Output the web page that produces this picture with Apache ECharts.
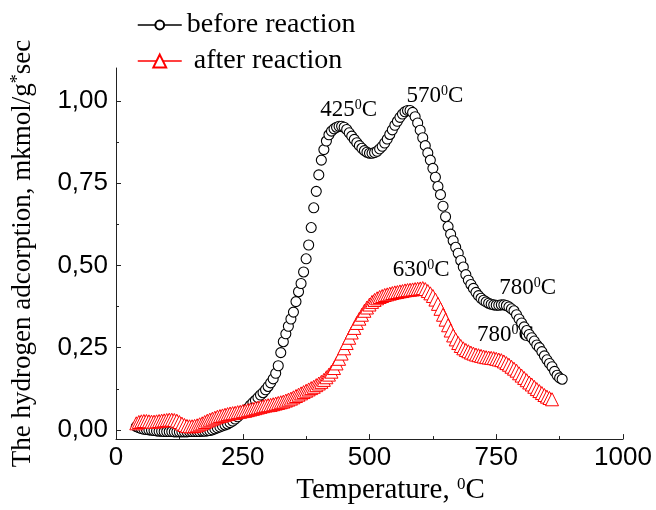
<!DOCTYPE html>
<html><head><meta charset="utf-8">
<script src="https://cdn.jsdelivr.net/npm/echarts@6/dist/echarts.min.js"></script>
<style>html,body{margin:0;padding:0;background:#fff}#c{width:656px;height:510px}</style>
</head><body><div id="c"></div><script>
// Temperatures (°C) for "before reaction"
const beforeT = [
 40,45,50,55,60,65,70,75,80,85,
 90,95,100,105,110,115,120,125,130,135,
 140,145,150,155,160,165,170,175,180,185,
 190,195,200,205,210,215,220,225,230,235,
 240,245,250,255,260,265,270,275,280,285,
 290,295,300,305,310,315,320,325,330,335,
 340,345,350,355,360,365,370,375,380,385,
 390,395,400,405,410,415,420,425,430,435,
 440,445,450,455,460,465,470,475,480,485,
 490,495,500,505,510,515,520,525,530,535,
 540,545,550,555,560,565,570,575,580,585,
 590,595,600,605,610,615,620,625,630,635,
 640,645,650,655,660,665,670,675,680,685,
 690,695,700,705,710,715,720,725,730,735,
 740,745,750,755,760,765,770,775,780,785,
 790,795,800,805,810,815,820,825,830,835,
 840,845,850,855,860,865,870,875,880
];
const beforeY = [
 0.010,0.007,0.004,0.002,0.001,0.000,-0.001,-0.002,-0.003,-0.004,
 -0.004,-0.005,-0.005,-0.005,-0.005,-0.006,-0.006,-0.006,-0.006,-0.006,
 -0.006,-0.005,-0.005,-0.005,-0.005,-0.005,-0.004,-0.004,-0.003,-0.002,
 0.000,0.003,0.006,0.009,0.012,0.015,0.018,0.022,0.027,0.033,
 0.040,0.047,0.054,0.060,0.066,0.075,0.083,0.090,0.098,0.106,
 0.113,0.122,0.132,0.143,0.155,0.172,0.195,0.235,0.268,0.292,
 0.315,0.337,0.358,0.390,0.420,0.445,0.480,0.520,0.562,0.615,
 0.675,0.725,0.775,0.820,0.852,0.878,0.897,0.908,0.915,0.920,
 0.923,0.923,0.920,0.913,0.903,0.893,0.883,0.873,0.864,0.856,
 0.849,0.844,0.841,0.841,0.843,0.847,0.854,0.862,0.872,0.884,
 0.898,0.912,0.926,0.938,0.950,0.960,0.967,0.971,0.971,0.965,
 0.952,0.933,0.911,0.888,0.864,0.842,0.820,0.795,0.768,0.740,
 0.715,0.680,0.648,0.618,0.595,0.575,0.555,0.537,0.515,0.495,
 0.472,0.455,0.442,0.430,0.418,0.408,0.400,0.394,0.389,0.385,
 0.382,0.380,0.379,0.379,0.380,0.380,0.378,0.374,0.368,0.362,
 0.350,0.337,0.325,0.313,0.302,0.290,0.280,0.270,0.258,0.250,
 0.238,0.225,0.213,0.202,0.192,0.178,0.166,0.158,0.154
];
// Temperatures (°C) for "after reaction"
const afterT = [
 40,45,50,55,60,65,70,75,80,85,
 90,95,100,105,110,115,120,125,130,135,
 140,145,150,155,160,165,170,175,180,185,
 190,195,200,205,210,215,220,225,230,235,
 240,245,250,255,260,265,270,275,280,285,
 290,295,300,305,310,315,320,325,330,335,
 340,345,350,355,360,365,370,375,380,385,
 390,395,400,405,410,415,420,425,430,435,
 440,445,450,455,460,465,470,475,480,485,
 490,495,500,505,510,515,520,525,530,535,
 540,545,550,555,560,565,570,575,580,585,
 590,595,600,605,610,615,620,625,630,635,
 640,645,650,655,660,665,670,675,680,685,
 690,695,700,705,710,715,720,725,730,735,
 740,745,750,755,760,765,770,775,780,785,
 790,795,800,805,810,815,820,825,830,835,
 840,845,850,855,860
];
const afterY = [
 0.020,0.024,0.026,0.027,0.027,0.026,0.025,0.025,0.026,0.027,
 0.028,0.029,0.030,0.031,0.031,0.030,0.028,0.024,0.019,0.015,
 0.012,0.011,0.011,0.012,0.014,0.017,0.020,0.024,0.028,0.031,
 0.034,0.037,0.040,0.042,0.044,0.046,0.048,0.050,0.051,0.052,
 0.054,0.055,0.057,0.058,0.060,0.062,0.064,0.066,0.068,0.070,
 0.072,0.074,0.075,0.076,0.078,0.080,0.082,0.084,0.086,0.089,
 0.092,0.095,0.099,0.103,0.107,0.111,0.115,0.119,0.123,0.127,
 0.131,0.136,0.141,0.146,0.152,0.160,0.168,0.177,0.188,0.202,
 0.216,0.232,0.248,0.264,0.280,0.296,0.310,0.325,0.338,0.350,
 0.362,0.372,0.381,0.389,0.395,0.400,0.404,0.407,0.410,0.412,
 0.414,0.416,0.418,0.419,0.421,0.422,0.424,0.425,0.426,0.427,
 0.428,0.429,0.430,0.431,0.428,0.422,0.415,0.407,0.396,0.383,
 0.368,0.350,0.335,0.318,0.302,0.287,0.275,0.264,0.255,0.248,
 0.243,0.239,0.235,0.232,0.229,0.227,0.225,0.223,0.221,0.220,
 0.219,0.218,0.216,0.214,0.212,0.208,0.203,0.198,0.192,0.186,
 0.180,0.172,0.165,0.158,0.151,0.144,0.138,0.131,0.124,0.118,
 0.112,0.106,0.101,0.097,0.093
];
const xTickValues = [0, 250, 500, 750, 1000];
const yLabelValues = [0, 0.25, 0.5, 0.75, 1.0];
const yMinorValues = [0.125, 0.375, 0.625, 0.875];
const peakNames = ['425', '570', '630', '780', '780'];
const peakAnchors = [[459, 0.972], [629, 1.014], [602, 0.487], [812, 0.432], [768, 0.290]];

const pair = (t, y) => t.map((v, i) => [v, y[i]]);
const serif = 'Liberation Serif';
const sans = 'Liberation Sans';
const yMin = -0.028, yMax = 1.1;

const chart = echarts.init(document.getElementById('c'), null, {renderer: 'canvas'});
chart.setOption({
  animation: false,
  grid: {left: 116, right: 33, top: 68, bottom: 70},
  legend: [
    {left: 132, top: 6, itemWidth: 44, itemHeight: 11,
     textStyle: {fontFamily: serif, fontSize: 28, color: '#000'},
     lineStyle: {color: '#000', width: 1.5, opacity: 1},
     data: ['before reaction']},
    {left: 132, top: 42, itemWidth: 44, itemHeight: 16,
     textStyle: {fontFamily: serif, fontSize: 28, color: '#000', padding: [0, 0, 0, 7]},
     lineStyle: {color: '#ff0000', width: 1.5, opacity: 1},
     data: ['after reaction']}
  ],
  xAxis: {
    type: 'value', min: 0, max: 1000, interval: 250,
    axisLine: {onZero: false, lineStyle: {color: '#222', width: 1}},
    axisTick: {inside: true, length: 5, lineStyle: {color: '#222'}},
    minorTick: {show: true, splitNumber: 2, length: 3, lineStyle: {color: '#222'}},
    splitLine: {show: false},
    axisLabel: {fontFamily: sans, fontSize: 26, color: '#000', margin: 6,
      formatter: v => String(v)},
    name: 'Temperature, {s|0}C', nameLocation: 'middle', nameGap: 36,
    nameTextStyle: {fontFamily: serif, fontSize: 29, color: '#000', padding: [0, 0, 0, 42],
      rich: {s: {fontFamily: serif, fontSize: 17, color: '#000', verticalAlign: 'top'}}}
  },
  yAxis: [
    {type: 'value', min: yMin, max: yMax,
     axisLine: {show: true, onZero: false, lineStyle: {color: '#222', width: 1}},
     axisTick: {inside: true, length: 5, customValues: yLabelValues, lineStyle: {color: '#222'}},
     splitLine: {show: false},
     axisLabel: {fontFamily: sans, fontSize: 26, color: '#000', margin: 8, customValues: yLabelValues,
       formatter: v => v.toFixed(2).replace('.', ',')},
     name: 'The hydrogen adcorption, mkmol/g{s|*}sec', nameLocation: 'middle', nameGap: 80,
     nameTextStyle: {fontFamily: serif, fontSize: 27, color: '#000',
       rich: {s: {fontFamily: serif, fontSize: 18, color: '#000', verticalAlign: 'top'}}}},
    {type: 'value', min: yMin, max: yMax, position: 'left',
     axisLine: {show: false}, splitLine: {show: false},
     axisTick: {show: true, inside: true, length: 3, customValues: yMinorValues, lineStyle: {color: '#222'}},
     axisLabel: {show: false, customValues: yMinorValues}}
  ],
  series: [
    {type: 'scatter', name: 'notes', silent: true, z: 1, symbolSize: 0,
     data: peakAnchors.map((a, i) => ({value: a, label: {formatter: '{n|' + peakNames[i] + '}{s|0}{n|C}'}})),
     label: {show: true, position: 'inside', color: '#000', opacity: 1,
       rich: {n: {fontFamily: serif, fontSize: 23, color: '#000'},
              s: {fontFamily: serif, fontSize: 14, color: '#000', verticalAlign: 'top'}}}},
    {type: 'line', name: 'before reaction', data: pair(beforeT, beforeY),
     symbol: 'circle', symbolSize: 10, showAllSymbol: true, z: 2,
     lineStyle: {opacity: 0},
     itemStyle: {color: '#fff', borderColor: '#000', borderWidth: 1.1}},
    {type: 'line', name: 'after reaction', data: pair(afterT, afterY),
     symbol: 'triangle', symbolSize: 13, showAllSymbol: true, z: 3,
     lineStyle: {opacity: 0},
     itemStyle: {color: '#fff', borderColor: '#ff0000', borderWidth: 1}}
  ]
});
</script></body></html>
